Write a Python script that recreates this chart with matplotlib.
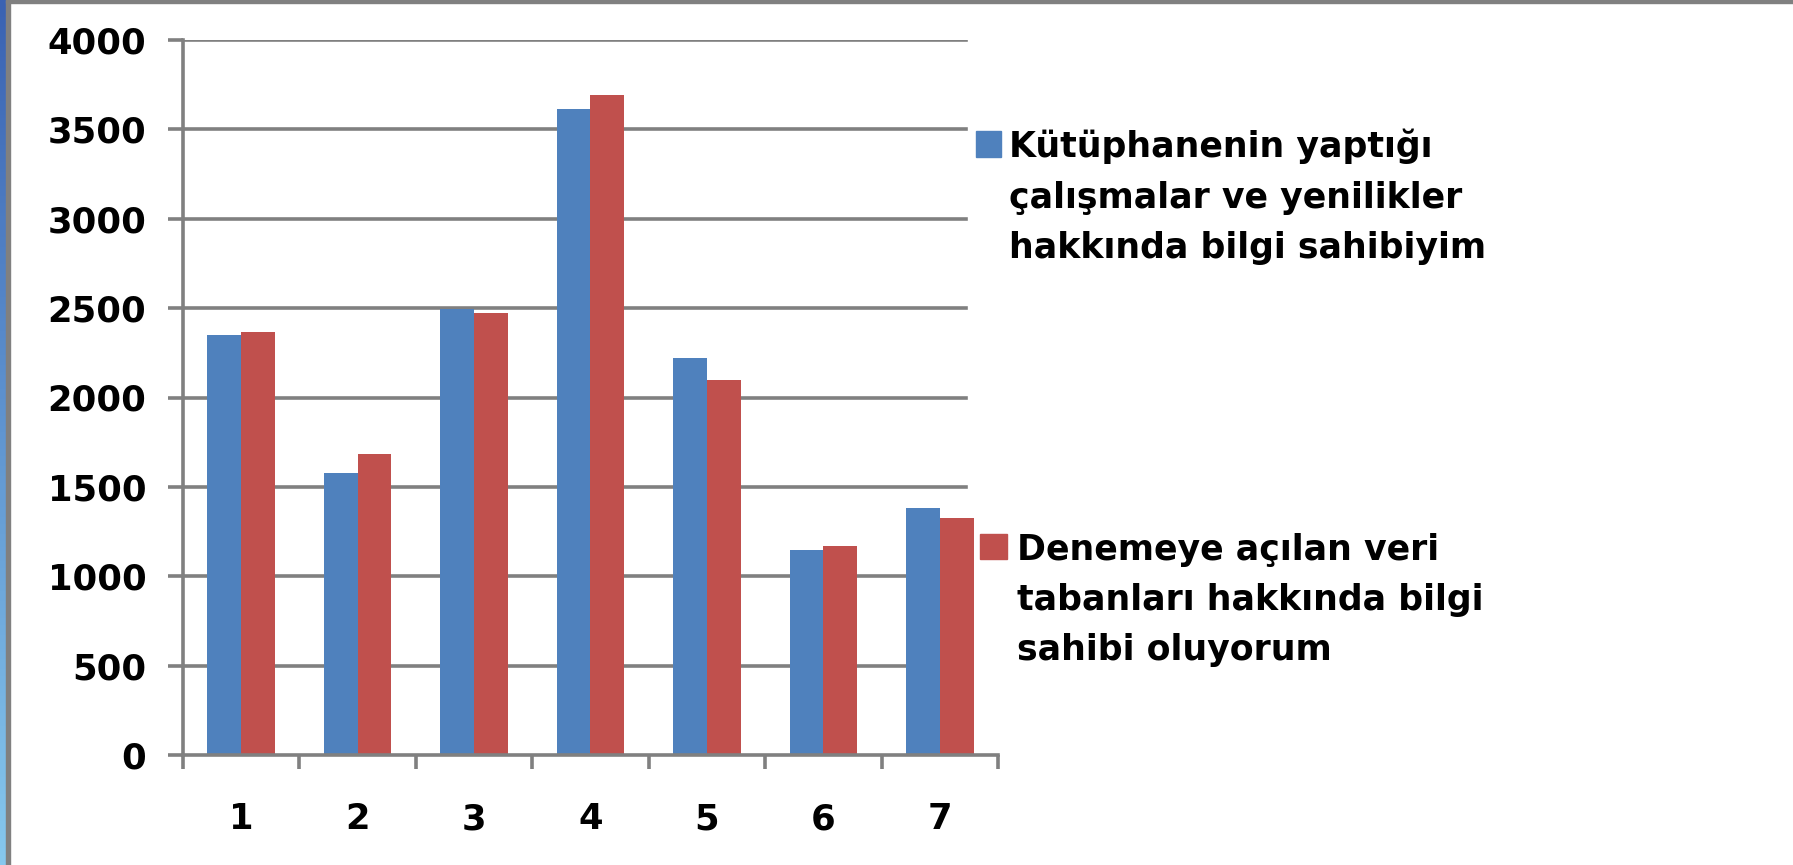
import numpy as np
import matplotlib.pyplot as plt
from matplotlib.patches import Rectangle
from matplotlib.colors import LinearSegmentedColormap

# ---------------------------------------------------------
# data
# ---------------------------------------------------------
categories = ["1", "2", "3", "4", "5", "6", "7"]
series_1 = [2350, 1580, 2495, 3615, 2220, 1148, 1382]
series_2 = [2366, 1684, 2473, 3690, 2098, 1170, 1326]
labels = [
    "Kütüphanenin yaptığı\nçalışmalar ve yenilikler\nhakkında bilgi sahibiyim",
    "Denemeye açılan veri\ntabanları hakkında bilgi\nsahibi oluyorum",
]
y_ticks = [0, 500, 1000, 1500, 2000, 2500, 3000, 3500, 4000]

BLUE = "#4F81BD"
RED = "#C0504D"
GRAY = "#808080"

W, H = 1793, 865
fig = plt.figure(figsize=(W / 100, H / 100), dpi=100)


def fx(px):
    return px / W


def fy(py):
    return 1 - py / H


# screenshot frame: blue strip on the left, gray borders
strip = fig.add_axes([0, 0, fx(6), 1])
grad = np.linspace(0, 1, 256).reshape(-1, 1)
cmap = LinearSegmentedColormap.from_list("strip", ["#3a62b2", "#86c8ee"])
strip.imshow(grad, aspect="auto", cmap=cmap)
strip.axis("off")
fig.patches.append(Rectangle((fx(6), 0), fx(4), 1, transform=fig.transFigure,
                             color=GRAY, zorder=5))
fig.patches.append(Rectangle((fx(6), fy(3)), 1, 3 / H, transform=fig.transFigure,
                             color=GRAY, zorder=5))

# ---------------------------------------------------------
# chart
# ---------------------------------------------------------
ax = fig.add_axes([fx(183), fy(755), fx(998 - 183), (755 - 40) / H])

x = np.arange(1, len(categories) + 1)
bw = 0.29
ax.bar(x - bw / 2, series_1, bw, color=BLUE, zorder=2)
ax.bar(x + bw / 2, series_2, bw, color=RED, zorder=2)

for t in y_ticks[1:]:
    ax.axhline(t, xmin=0, xmax=(966 - 183) / (998 - 183), color=GRAY, lw=2.6, zorder=1)

ax.set_xlim(0.5, len(categories) + 0.5)
ax.set_ylim(0, 4000)
ax.set_yticks(y_ticks)
ax.set_yticklabels([str(t) for t in y_ticks])
ax.set_xticks(np.arange(0.5, len(categories) + 1, 1.0))
ax.set_xticklabels([])
ax.set_xticks(x, minor=True)
ax.set_xticklabels(categories, minor=True)

for side in ["top", "right"]:
    ax.spines[side].set_visible(False)
for side in ["left", "bottom"]:
    ax.spines[side].set_color(GRAY)
    ax.spines[side].set_linewidth(2.6)

ax.tick_params(axis="y", direction="out", length=10.8, width=2.6, color=GRAY,
               pad=15.5, labelsize=25.5)
ax.tick_params(axis="x", which="major", direction="out", length=10, width=2.6, color=GRAY)
ax.tick_params(axis="x", which="minor", length=0, pad=34, labelsize=25.5)
for lab in ax.get_yticklabels() + ax.get_xticklabels(minor=True):
    lab.set_fontweight("bold")

# ---------------------------------------------------------
# legend
# ---------------------------------------------------------
fig.patches.append(Rectangle((fx(976), fy(157)), fx(25), 26 / H,
                             transform=fig.transFigure, color=BLUE))
fig.patches.append(Rectangle((fx(980), fy(559)), fx(27), 25 / H,
                             transform=fig.transFigure, color=RED))
fig.text(fx(1009), fy(129), labels[0], fontsize=25, fontweight="bold",
         va="top", ha="left", linespacing=1.6)
fig.text(fx(1017), fy(533), labels[1], fontsize=25, fontweight="bold",
         va="top", ha="left", linespacing=1.6)

fig.savefig("out.png", dpi=100)
